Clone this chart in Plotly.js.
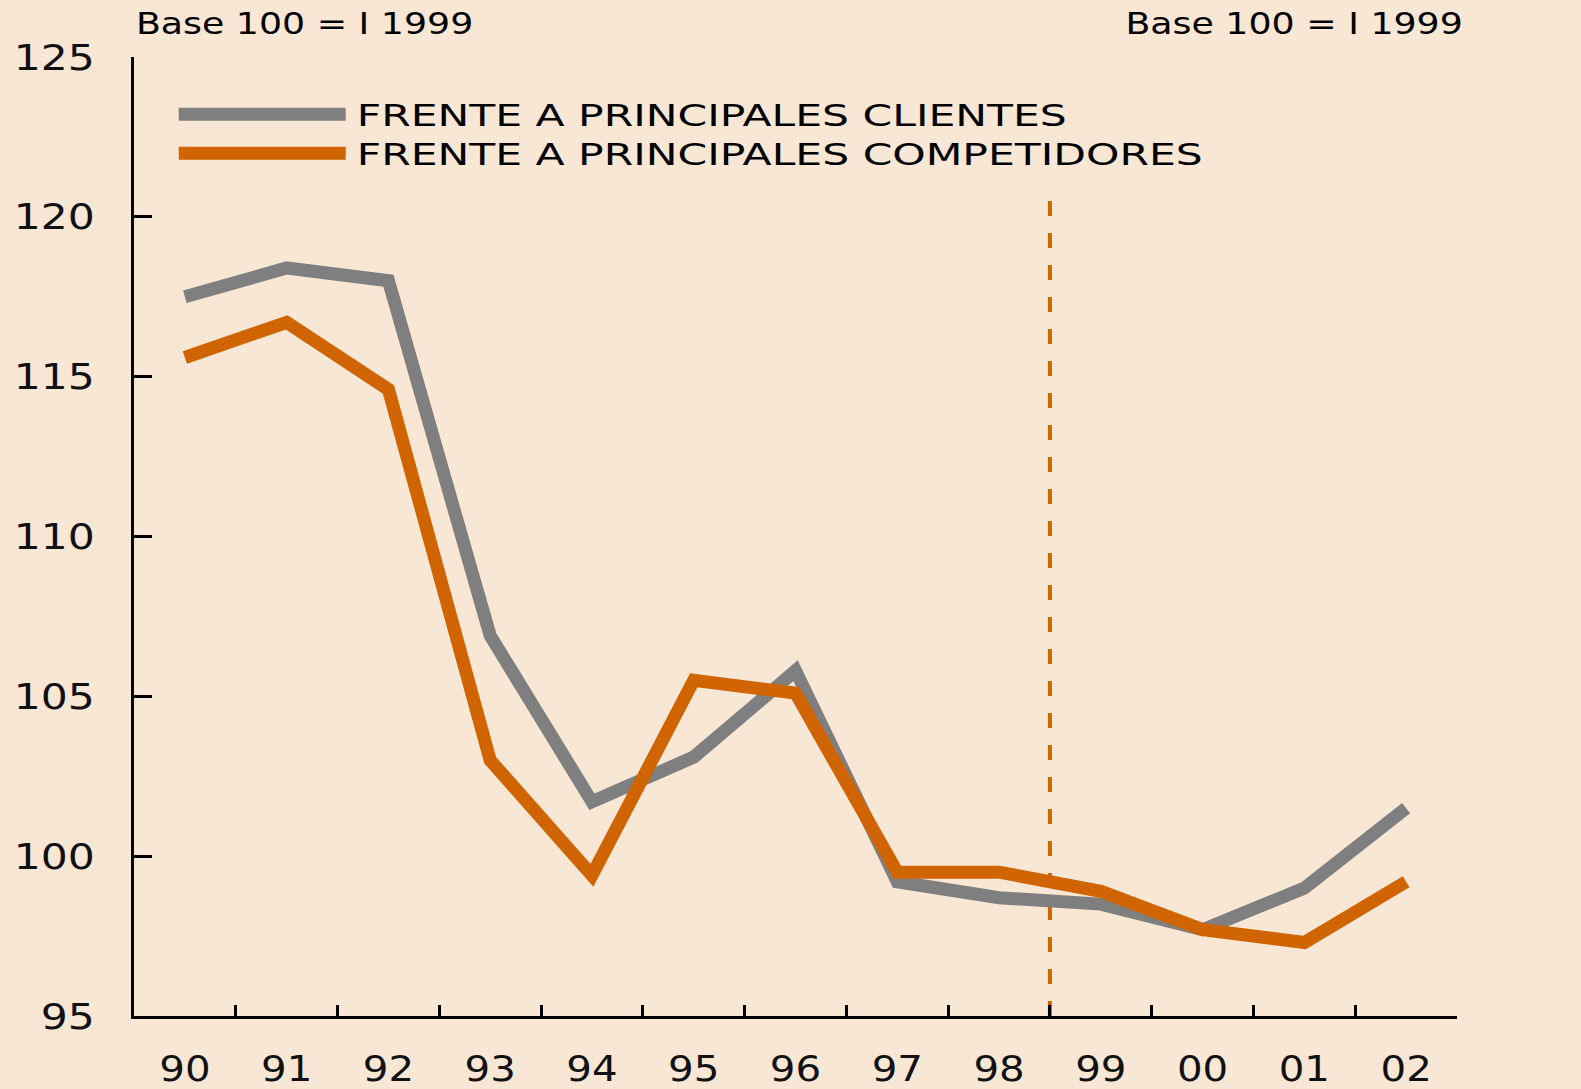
<!DOCTYPE html>
<html><head><meta charset="utf-8">
<script src="https://cdn.plot.ly/plotly-3.0.1.min.js"></script>
<style>
html,body{margin:0;padding:0;background:#F8E7D4;}
#chart{width:1581px;height:1089px;}
</style></head><body><div id="chart"></div>
<script>
// ---- data ----
const years = ['90','91','92','93','94','95','96','97','98','99','00','01','02'];
const clientes = [117.5, 118.4, 118.0, 106.9, 101.7, 103.1, 105.8, 99.2, 98.7, 98.5, 97.7, 99.0, 101.5];
const competidores = [115.6, 116.7, 114.6, 103.0, 99.4, 105.5, 105.1, 99.5, 99.5, 98.9, 97.7, 97.3, 99.2];
const seriesNames = ['FRENTE A PRINCIPALES CLIENTES', 'FRENTE A PRINCIPALES COMPETIDORES'];
const baseLabel = 'Base 100 = I 1999';
const yTicks = [95, 100, 105, 110, 115, 120, 125];
const markerYear = '99';     // dashed line marks start of this year
const markerTop = 120.6;     // top of dashed line (axis units)

// ---- style ----
const BG = '#F8E7D4', GRAY = '#7F7F7F', ORANGE = '#D06400';
const FONT = 'DejaVu Sans, Liberation Sans, sans-serif';

const traces = [
  {x: years, y: clientes, name: seriesNames[0], type: 'scatter', mode: 'lines',
   line: {color: GRAY, width: 13}},
  {x: years, y: competidores, name: seriesNames[1], type: 'scatter', mode: 'lines',
   line: {color: ORANGE, width: 13}}
];

const yCommon = {
  range: [yTicks[0], yTicks[yTicks.length-1]], tickvals: yTicks,
  ticks: 'inside', ticklen: 18, tickwidth: 3, tickcolor: '#000',
  showline: true, linewidth: 3, linecolor: '#000',
  showgrid: false, zeroline: false,
  tickfont: {family: FONT, size: 36, color: '#111'}
};

const markerX = years.indexOf(markerYear) - 0.5;

const layout = {
  width: 1581, height: 1089,
  paper_bgcolor: BG, plot_bgcolor: BG,
  margin: {l: 134, r: 124, t: 57, b: 73},
  showlegend: true,
  legend: {x: 0.0323, y: 0.968, xanchor: 'left', yanchor: 'top',
    bgcolor: 'rgba(0,0,0,0)', itemwidth: 170,
    font: {family: FONT, size: 31, color: '#000'}},
  xaxis: {type: 'category', categoryorder: 'array', categoryarray: years,
    range: [-0.5, years.length - 0.5],
    tickson: 'boundaries', ticks: 'inside', ticklen: 11, tickwidth: 3, tickcolor: '#000',
    showline: true, linewidth: 3, linecolor: '#000', showgrid: false, zeroline: false,
    ticklabelstandoff: 19,
    tickfont: {family: FONT, size: 36, color: '#111'}},
  yaxis: Object.assign({}, yCommon, {side: 'left', ticklabelstandoff: 29}),
  yaxis2: Object.assign({}, yCommon, {side: 'right', overlaying: 'y', ticklabelstandoff: 35}),
  shapes: [{type: 'line', xref: 'x', yref: 'y', x0: markerX, x1: markerX,
    y0: yTicks[0], y1: markerTop, layer: 'below',
    line: {color: ORANGE, width: 4, dash: '15px,17px'}}],
  annotations: [
    {xref: 'paper', yref: 'paper', x: 0, y: 1, xanchor: 'left', yanchor: 'bottom',
     yshift: 14, showarrow: false, text: baseLabel,
     font: {family: FONT, size: 30, color: '#000'}},
    {xref: 'paper', yref: 'paper', x: 1, y: 1, xanchor: 'right', yanchor: 'bottom',
     yshift: 14, xshift: 8, showarrow: false, text: baseLabel,
     font: {family: FONT, size: 30, color: '#000'}}
  ]
};

// widen glyphs horizontally (reference type is horizontally stretched)
function stretch(el, f, keep) {
  const b0 = el.getBBox();
  const w = el.getComputedTextLength();
  el.setAttribute('lengthAdjust', 'spacingAndGlyphs');
  el.setAttribute('textLength', (w * f).toFixed(1));
  if (keep) {
    const b1 = el.getBBox();
    const dx = keep === 'left' ? b0.x - b1.x : (b0.x + b0.width) - (b1.x + b1.width);
    const x = parseFloat(el.getAttribute('x') || '0');
    el.setAttribute('x', (x + dx).toFixed(1));
  }
}

const gd = document.getElementById('chart');
Plotly.newPlot(gd, traces, layout, {displayModeBar: false, staticPlot: true}).then(() => {
  // legend: long line keys, no clipping, tighter row spacing
  gd.querySelectorAll('.legend [clip-path]').forEach(e => e.removeAttribute('clip-path'));
  gd.querySelectorAll('.legendlines path').forEach(p => {
    p.setAttribute('d', 'M2,0h167');
    p.style.strokeWidth = '13px';
  });
  const items = gd.querySelectorAll('.legend .traces');
  if (items.length === 2) {
    const m = /translate\(\s*([-\d.]+)[ ,]+([-\d.]+)/.exec(items[0].getAttribute('transform') || '');
    if (m) items[1].setAttribute('transform', `translate(${m[1]},${parseFloat(m[2]) + 39})`);
  }
  gd.querySelectorAll('.legendtext').forEach(t => stretch(t, 1.37, 'left'));
  gd.querySelectorAll('.xtick text').forEach(t => stretch(t, 1.12, null));
  gd.querySelectorAll('.ytick text').forEach(t => stretch(t, 1.18, 'right'));
  gd.querySelectorAll('.y2tick text').forEach(t => stretch(t, 1.18, 'left'));
  const ann = gd.querySelectorAll('.annotation-text');
  if (ann[0]) stretch(ann[0], 1.21, 'left');
  if (ann[1]) stretch(ann[1], 1.21, 'right');
});
</script></body></html>
